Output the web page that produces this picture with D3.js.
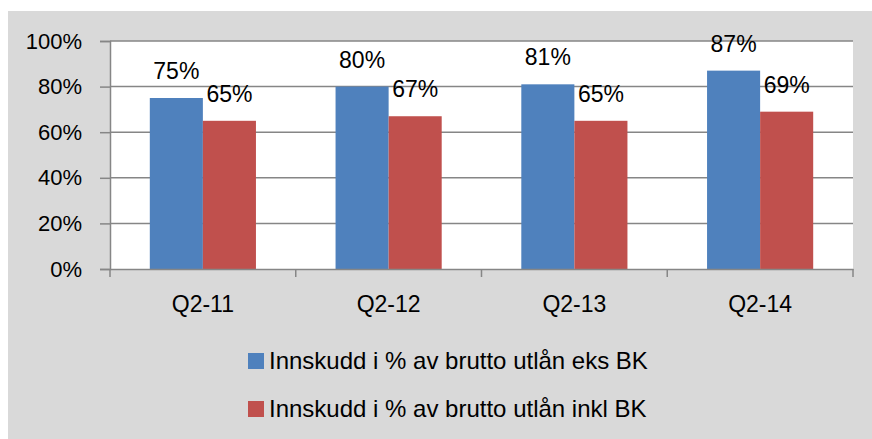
<!DOCTYPE html>
<html>
<head>
<meta charset="utf-8">
<script src="https://cdn.jsdelivr.net/npm/d3@7"></script>
<style>
  body { margin:0; background:#fff; }
  text { font-family: "Liberation Sans", Arial, sans-serif; fill:#000; }
</style>
</head>
<body>
<div id="chart"></div>
<script>
var quarters = ["Q2-11", "Q2-12", "Q2-13", "Q2-14"];
var eksBK = [75, 80, 81, 87];
var inklBK = [65, 67, 65, 69];
var seriesNames = ["Innskudd i % av brutto utlån eks BK", "Innskudd i % av brutto utlån inkl BK"];
var yTicks = [0, 20, 40, 60, 80, 100];

var colors = ["#4F81BD", "#C0504D"];
var W = 872, H = 439;
var plot = {l:110, r:853, t:41, b:269};

var svg = d3.select('#chart').append('svg')
    .attr('width', W).attr('height', H);

svg.append('rect')
    .attr('x', 8).attr('y', 11)
    .attr('width', W - 8).attr('height', H - 11)
    .attr('fill', '#d9d9d9');

svg.append('rect')
    .attr('x', plot.l).attr('y', plot.t)
    .attr('width', plot.r - plot.l).attr('height', plot.b - plot.t)
    .attr('fill', '#fff');

var scaleX = d3.scaleBand().domain(quarters).range([plot.l, plot.r]);
var scaleY = d3.scaleLinear().domain([0, 100]).range([plot.b, plot.t]);
// gap width 150% -> bar = band / 3.5
var barW = scaleX.bandwidth() / 3.5;

// gridlines
svg.append('g').selectAll('line')
    .data(yTicks.filter(function(d){ return d > 0; }))
    .enter().append('line')
    .attr('x1', plot.l).attr('x2', plot.r)
    .attr('y1', function(d){ return scaleY(d); })
    .attr('y2', function(d){ return scaleY(d); })
    .attr('stroke', '#868686').attr('stroke-width', 1.5);

var data = [];
quarters.forEach(function(q, i){
    data.push({q:q, s:0, v:eksBK[i]});
    data.push({q:q, s:1, v:inklBK[i]});
});

function barX(d){ return scaleX(d.q) + scaleX.bandwidth() / 2 - barW + d.s * barW; }

svg.append('g').selectAll('rect')
    .data(data)
    .enter().append('rect')
    .attr('x', barX)
    .attr('width', barW)
    .attr('y', function(d){ return scaleY(d.v); })
    .attr('height', function(d){ return scaleY(0) - scaleY(d.v); })
    .attr('fill', function(d){ return colors[d.s]; });

svg.append('g').selectAll('text')
    .data(data)
    .enter().append('text')
    .attr('x', function(d){ return barX(d) + barW / 2; })
    .attr('y', function(d){ return scaleY(d.v) - 19; })
    .attr('text-anchor', 'middle')
    .style('font-size', '23px')
    .text(function(d){ return d.v + '%'; });

// y axis
var axisY = svg.append('g')
    .attr('transform', 'translate(' + plot.l + ',0)')
    .call(d3.axisLeft(scaleY).tickValues(yTicks).tickSize(10).tickPadding(18)
        .tickFormat(function(d){ return d + '%'; }));
axisY.select('.domain').attr('stroke', '#868686').attr('stroke-width', 1.5);
axisY.selectAll('.tick line').attr('stroke', '#868686').attr('stroke-width', 1.5);
axisY.selectAll('.tick text').style('font-size', '22px').attr('fill', '#000')
    .style('font-family', '"Liberation Sans", Arial, sans-serif');

// x axis
var axisX = svg.append('g')
    .attr('transform', 'translate(0,' + plot.b + ')')
    .call(d3.axisBottom(scaleX).tickSize(0).tickPadding(27));
axisX.select('.domain').attr('stroke', '#868686').attr('stroke-width', 1.5);
axisX.selectAll('.tick text').style('font-size', '23px').attr('fill', '#000')
    .style('font-family', '"Liberation Sans", Arial, sans-serif');
axisX.selectAll('.sep')
    .data(quarters.map(function(q){ return scaleX(q); }).concat([plot.r]))
    .enter().append('line')
    .attr('x1', function(d){ return d; }).attr('x2', function(d){ return d; })
    .attr('y1', 0).attr('y2', 8)
    .attr('stroke', '#868686').attr('stroke-width', 1.5);

// legend
var legend = svg.append('g').selectAll('g')
    .data(seriesNames)
    .enter().append('g')
    .attr('transform', function(d, i){ return 'translate(248,' + (353 + i * 48) + ')'; });
legend.append('rect')
    .attr('width', 16).attr('height', 16)
    .attr('fill', function(d, i){ return colors[i]; });
legend.append('text')
    .attr('x', 21).attr('y', 16)
    .style('font-size', '24px')
    .text(function(d){ return d; });
</script>
</body>
</html>
